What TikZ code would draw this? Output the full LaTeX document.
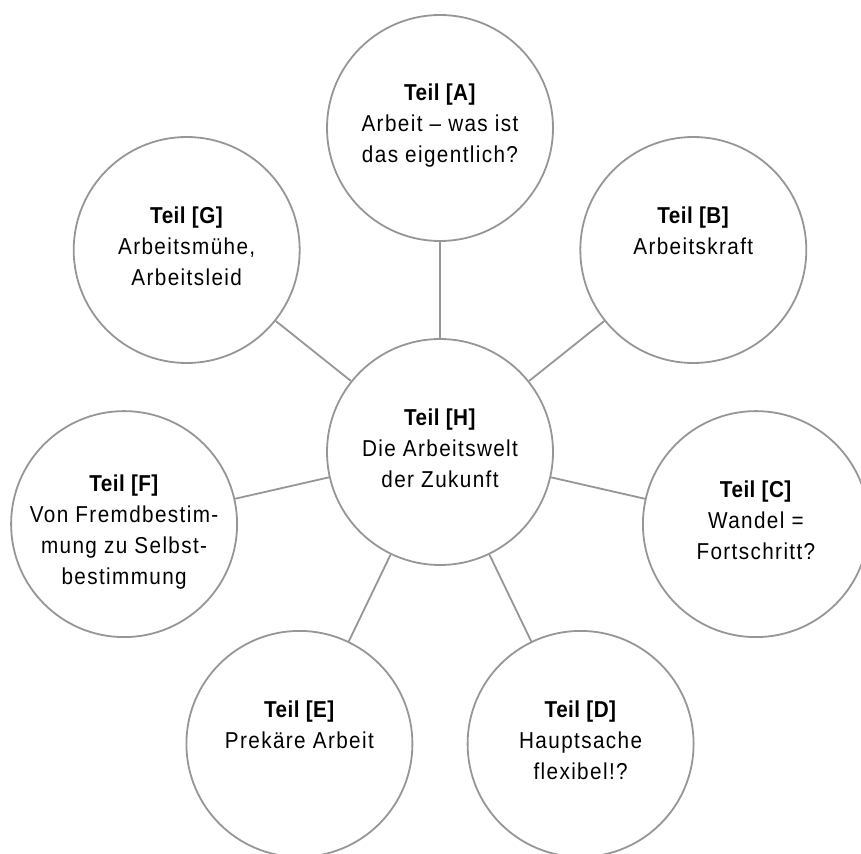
\documentclass[tikz,border=0pt]{standalone}
\usepackage{fontspec}
\setmainfont{Liberation Sans}[FakeStretch=0.9, LetterSpace=6, BoldFeatures={LetterSpace=2}]
\definecolor{ringgray}{RGB}{150,150,150}
\begin{document}
\begin{tikzpicture}[x=1pt,y=-1pt,
  ring/.style={circle, draw=ringgray, line width=1.8pt, minimum size=226pt, inner sep=0pt},
  conn/.style={draw=ringgray, line width=1.8pt},
  lbl/.style={anchor=base, align=center, inner sep=0pt, text=black,
    font=\fontsize{23}{31}\selectfont}]
\useasboundingbox (0,0) rectangle (861,853);
\clip (0,0) rectangle (861,853);
\node[ring] (H) at (440,452) {};
\node[ring] (A) at (440,128) {};
\node[ring] (B) at (693.3,250) {};
\node[ring] (C) at (755.9,524.1) {};
\node[ring] (D) at (580.6,743.9) {};
\node[ring] (E) at (299.4,743.9) {};
\node[ring] (F) at (124.1,524.1) {};
\node[ring] (G) at (186.7,250) {};
\foreach \n in {A,B,C,D,E,F,G} \draw[conn] (H) -- (\n);
\node[lbl] (tH) at (440,487) {\textbf{Teil [H]}\\Die Arbeitswelt\\der Zukunft};
\node[lbl] (tA) at (440,163) {\textbf{Teil [A]}\\Arbeit -- was ist\\das eigentlich?};
\node[lbl] (tB) at (693.3,254) {\textbf{Teil [B]}\\Arbeitskraft};
\node[lbl] (tC) at (755.9,559) {\textbf{Teil [C]}\\Wandel =\\Fortschritt?};
\node[lbl] (tD) at (580.6,779) {\textbf{Teil [D]}\\Hauptsache\\flexibel!?};
\node[lbl] (tE) at (299.4,748) {\textbf{Teil [E]}\\Prekäre Arbeit};
\node[lbl] (tF) at (124.1,584) {\textbf{Teil [F]}\\Von Fremdbestim-\\mung zu Selbst-\\bestimmung};
\node[lbl] (tG) at (186.7,285) {\textbf{Teil [G]}\\Arbeitsmühe,\\Arbeitsleid};
\end{tikzpicture}
\end{document}
